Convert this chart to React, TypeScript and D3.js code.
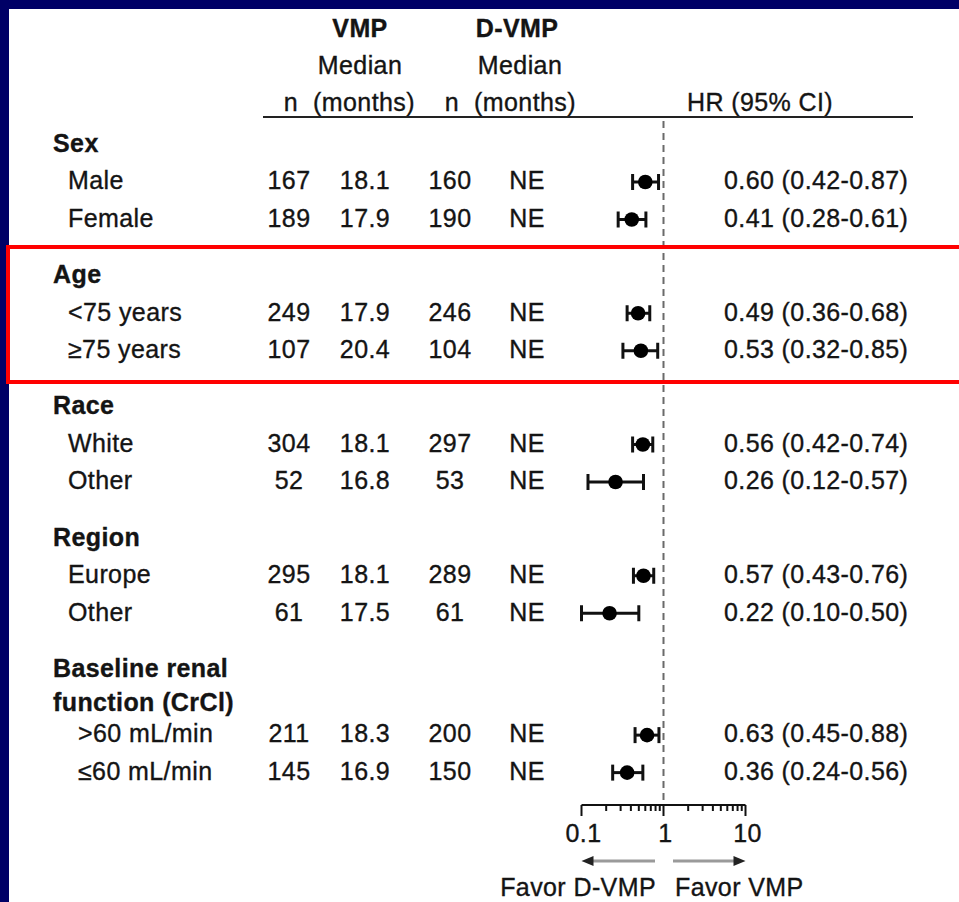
import React from "react";
import * as d3 from "d3";

const groups = ["Sex", "Age", "Race", "Region", "Baseline renal\nfunction (CrCl)"];
const groupOf = [0, 0, 1, 1, 2, 2, 3, 3, 4, 4];
const labels = ["Male", "Female", "<75 years", "≥75 years", "White", "Other", "Europe", "Other", ">60 mL/min", "≤60 mL/min"];
const nVMP = [167, 189, 249, 107, 304, 52, 295, 61, 211, 145];
const medVMP = ["18.1", "17.9", "17.9", "20.4", "18.1", "16.8", "18.1", "17.5", "18.3", "16.9"];
const nDVMP = [160, 190, 246, 104, 297, 53, 289, 61, 200, 150];
const medDVMP = ["NE", "NE", "NE", "NE", "NE", "NE", "NE", "NE", "NE", "NE"];
const hr = [0.6, 0.41, 0.49, 0.53, 0.56, 0.26, 0.57, 0.22, 0.63, 0.36];
const lo = [0.42, 0.28, 0.36, 0.32, 0.42, 0.12, 0.43, 0.1, 0.45, 0.24];
const hi = [0.87, 0.61, 0.68, 0.85, 0.74, 0.57, 0.76, 0.5, 0.88, 0.56];
const hrText = [
  "0.60 (0.42-0.87)", "0.41 (0.28-0.61)", "0.49 (0.36-0.68)", "0.53 (0.32-0.85)",
  "0.56 (0.42-0.74)", "0.26 (0.12-0.57)", "0.57 (0.43-0.76)", "0.22 (0.10-0.50)",
  "0.63 (0.45-0.88)", "0.36 (0.24-0.56)",
];
const axisTicks = [0.1, 1, 10];

const W = 959, H = 902;
const FONT = "'Liberation Sans', Arial, sans-serif";
const FS = 25;
const INK = "#141414";

export default function App() {
  const x = d3.scaleLog().domain([0.1, 10]).range([581.5, 745.5]);
  const unit = 37.5;
  const y0 = 143;
  const headerUnits: number[] = [];
  const rowUnits: number[] = [];
  let u = 0;
  groups.forEach((g, gi) => {
    if (gi > 0) u += 0.5;
    headerUnits.push(u);
    const lines = g.split("\n").length;
    u += lines === 1 ? 1 : 1.75;
    labels.forEach((_, i) => {
      if (groupOf[i] === gi) {
        rowUnits[i] = u;
        u += 1;
      }
    });
  });
  const yOf = (un: number) => y0 + un * unit;

  const colN1 = 289, colM1 = 365, colN2 = 450, colM2 = 527, colHR = 724;
  const axisY = 805;
  const minor = x.ticks();

  return (
    <svg width={W} height={H} style={{ position: "absolute", left: 0, top: 0, display: "block" }}
      fontFamily={FONT} fontSize={FS} fill={INK}>
      <rect x={0} y={0} width={W} height={H} fill="#000066" />
      <rect x={9} y={9} width={W - 9} height={H - 9} fill="#ffffff" />

      <g stroke={INK} strokeWidth={0.35} letterSpacing={0.4}>
        {/* header */}
        <g textAnchor="middle">
          <text x={360} y={28} dy="0.35em" fontWeight="bold">VMP</text>
          <text x={360} y={65} dy="0.35em">Median</text>
          <text x={colN1 + 2} y={102} dy="0.35em">n</text>
          <text x={364} y={102} dy="0.35em">(months)</text>
          <text x={517} y={28} dy="0.35em" fontWeight="bold">D-VMP</text>
          <text x={520} y={65} dy="0.35em">Median</text>
          <text x={452} y={102} dy="0.35em">n</text>
          <text x={525} y={102} dy="0.35em">(months)</text>
          <text x={760} y={102} dy="0.35em">HR (95% CI)</text>
        </g>

        {/* group headers */}
        {groups.map((g, gi) =>
          g.split("\n").map((line, li) => (
            <text key={`${gi}-${li}`} x={53} y={yOf(headerUnits[gi]) + li * 34} dy="0.35em" fontWeight="bold">{line}</text>
          ))
        )}

        {labels.map((lab, i) => {
          const yy = yOf(rowUnits[i]);
          const lx = groupOf[i] === 4 ? 78 : 68;
          return (
            <g key={i}>
              <text x={lx} y={yy} dy="0.35em">{lab}</text>
              <text x={colN1} y={yy} dy="0.35em" textAnchor="middle">{nVMP[i]}</text>
              <text x={colM1} y={yy} dy="0.35em" textAnchor="middle">{medVMP[i]}</text>
              <text x={colN2} y={yy} dy="0.35em" textAnchor="middle">{nDVMP[i]}</text>
              <text x={colM2} y={yy} dy="0.35em" textAnchor="middle">{medDVMP[i]}</text>
              <text x={colHR} y={yy} dy="0.35em">{hrText[i]}</text>
            </g>
          );
        })}

        {axisTicks.map((t) => (
          <text key={t} x={x(t) + 2} y={833} dy="0.35em" textAnchor="middle">{String(t)}</text>
        ))}
        <text x={656} y={887} dy="0.35em" textAnchor="end">Favor D-VMP</text>
        <text x={675} y={887} dy="0.35em">Favor VMP</text>
      </g>

      <line x1={263} x2={913} y1={117} y2={117} stroke="#222" strokeWidth={2.2} />

      {/* reference line */}
      <line x1={x(1)} x2={x(1)} y1={121} y2={axisY} stroke="#6a6a6a" strokeWidth={2} strokeDasharray="7,5" />

      {/* forest marks */}
      {labels.map((_, i) => {
        const py = yOf(rowUnits[i]) + 1.5;
        return (
          <g key={i} stroke="#111" strokeWidth={3}>
            <line x1={x(lo[i])} x2={x(hi[i])} y1={py} y2={py} />
            <line x1={x(lo[i])} x2={x(lo[i])} y1={py - 8} y2={py + 8} />
            <line x1={x(hi[i])} x2={x(hi[i])} y1={py - 8} y2={py + 8} />
            <circle cx={x(hr[i])} cy={py} r={7.3} fill="#000" stroke="none" />
          </g>
        );
      })}

      {/* axis */}
      <line x1={x(0.1)} x2={x(10)} y1={axisY} y2={axisY} stroke="#111" strokeWidth={2} />
      {minor.map((t, i) => {
        const major = axisTicks.includes(t);
        return (
          <line key={i} x1={x(t)} x2={x(t)} y1={axisY} y2={axisY + (major ? 11 : 6)} stroke="#111" strokeWidth={2} />
        );
      })}

      {/* arrows */}
      <line x1={x(0.1) + 8} x2={655} y1={861} y2={861} stroke="#9a9a9a" strokeWidth={3} />
      <path d={`M${x(0.1)},861 L${x(0.1) + 12},856 L${x(0.1) + 12},866 Z`} fill="#222" />
      <line x1={673} x2={x(10) - 8} y1={861} y2={861} stroke="#9a9a9a" strokeWidth={3} />
      <path d={`M${x(10)},861 L${x(10) - 12},856 L${x(10) - 12},866 Z`} fill="#222" />

      {/* highlight box */}
      <rect x={8} y={247} width={W + 10} height={135} fill="none" stroke="#ff0000" strokeWidth={4} />
    </svg>
  );
}
